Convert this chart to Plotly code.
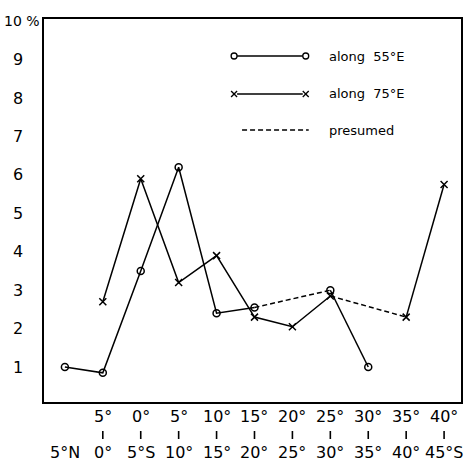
import plotly.graph_objects as go

# ---- data ----
lat_from = ["", "5°", "0°", "5°", "10°", "15°", "20°", "25°", "30°", "35°", "40°"]
lat_to = ["5°N", "0°", "5°S", "10°", "15°", "20°", "25°", "30°", "35°", "40°", "45°S"]
along_55E = [1.0, 0.85, 3.5, 6.2, 2.4, 2.55, None, 3.0, 1.0, None, None]
along_75E = [None, 2.7, 5.9, 3.2, 3.9, 2.3, 2.05, 2.85, None, 2.3, 5.75]
ytick_vals = [1, 2, 3, 4, 5, 6, 7, 8, 9, 10]
ytick_text = ["1", "2", "3", "4", "5", "6", "7", "8", "9", "10 %"]
legend_labels = ["along  55°E", "along  75°E", "presumed"]

FONT = "DejaVu Sans"
W, H = 467, 462
ML, MR, MT, MB = 44, 4, 19, 60
PW, PH = W - ML - MR, H - MT - MB

def px_x(px):
    return (px - ML) / PW

def px_y(py):
    return (H - MB - py) / PH

xidx = list(range(len(lat_to)))

def presumed_segments(vals):
    xs, ys = [], []
    known = [i for i, v in enumerate(vals) if v is not None]
    for a, b in zip(known[:-1], known[1:]):
        if b - a > 1:
            xs += [a, b, None]
            ys += [vals[a], vals[b], None]
    return xs, ys

fig = go.Figure()
for vals, sym in [(along_55E, "circle-open"), (along_75E, "x-thin-open")]:
    fig.add_trace(go.Scatter(
        x=xidx, y=vals, mode="lines+markers", connectgaps=False,
        line=dict(color="black", width=1.5),
        marker=dict(symbol=sym, size=7, color="black", line=dict(color="black", width=1.5)),
        showlegend=False, hoverinfo="skip"))
    dx, dy = presumed_segments(vals)
    fig.add_trace(go.Scatter(
        x=dx, y=dy, mode="lines",
        line=dict(color="black", width=1.5, dash="5px,3px"),
        showlegend=False, hoverinfo="skip"))

annotations = []
shapes = []
# x labels (three rows)
for i in xidx:
    if lat_from[i]:
        annotations.append(dict(x=i, y=px_y(416), xref="x", yref="paper", text=lat_from[i],
                                showarrow=False, xanchor="center", yanchor="middle",
                                font=dict(family=FONT, size=16, color="black")))
        shapes.append(dict(type="line", xref="x", yref="paper", x0=i, x1=i,
                           y0=px_y(431), y1=px_y(439), line=dict(color="black", width=1.6)))
    annotations.append(dict(x=i, y=px_y(452), xref="x", yref="paper", text=lat_to[i],
                            showarrow=False, xanchor="center", yanchor="middle",
                            font=dict(family=FONT, size=16, color="black")))
# y labels
for v, t in zip(ytick_vals, ytick_text):
    if len(t) > 2:
        annotations.append(dict(x=px_x(42), y=v, xref="paper", yref="y", text=t,
                                showarrow=False, xanchor="right", yanchor="middle",
                                font=dict(family=FONT, size=14, color="black")))
    else:
        annotations.append(dict(x=px_x(18), y=v, xref="paper", yref="y", text=t,
                                showarrow=False, xanchor="center", yanchor="middle",
                                font=dict(family=FONT, size=16, color="black")))

# legend (drawn in paper coords)
rows_y = [56, 94, 130]
for k, (lab, py) in enumerate(zip(legend_labels, rows_y)):
    yy = px_y(py)
    if k < 2:
        shapes.append(dict(type="line", xref="paper", yref="paper", x0=px_x(238), x1=px_x(304),
                           y0=yy, y1=yy, line=dict(color="black", width=1.5)))
        for cx in (235, 307):
            if k == 0:
                shapes.append(dict(type="circle", xref="paper", yref="paper",
                                   x0=px_x(cx - 3), x1=px_x(cx + 3), y0=px_y(py - 3), y1=px_y(py + 3),
                                   line=dict(color="black", width=1.3)))
            else:
                for s in (-1, 1):
                    shapes.append(dict(type="line", xref="paper", yref="paper",
                                       x0=px_x(cx - 3), x1=px_x(cx + 3),
                                       y0=px_y(py - 3 * s), y1=px_y(py + 3 * s),
                                       line=dict(color="black", width=1.3)))
    else:
        shapes.append(dict(type="line", xref="paper", yref="paper", x0=px_x(243), x1=px_x(310),
                           y0=yy, y1=yy, line=dict(color="black", width=1.5, dash="5px,3px")))
    annotations.append(dict(x=px_x(328), y=yy, xref="paper", yref="paper", text=lab,
                            showarrow=False, xanchor="left", yanchor="middle",
                            font=dict(family=FONT, size=13, color="black")))

fig.update_layout(
    width=W, height=H,
    margin=dict(l=ML, r=MR, t=MT, b=MB),
    paper_bgcolor="white", plot_bgcolor="white",
    xaxis=dict(range=[-0.551, 10.446], showticklabels=False, ticks="", showgrid=False,
               zeroline=False, showline=True, linecolor="black", linewidth=2, mirror=True),
    yaxis=dict(range=[0.09, 10.06], showticklabels=False, ticks="", showgrid=False,
               zeroline=False, showline=True, linecolor="black", linewidth=2, mirror=True),
    annotations=annotations, shapes=shapes,
)

fig.write_html("out.html", config={"displayModeBar": False},
               post_script="document.body.style.margin='0';document.body.style.overflow='hidden';")
